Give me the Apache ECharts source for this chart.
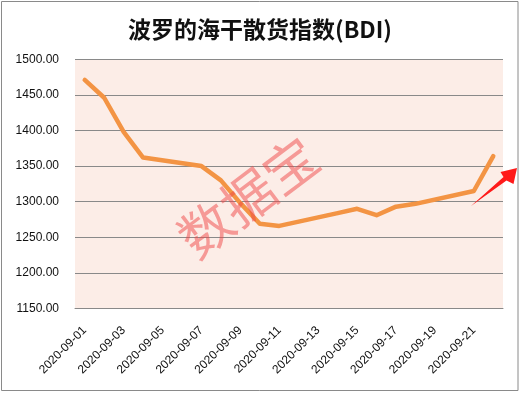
<!DOCTYPE html>
<html>
<head>
<meta charset="utf-8">
<script src="https://cdn.jsdelivr.net/npm/echarts@6/dist/echarts.min.js"></script>
<style>
html,body{margin:0;padding:0;background:#fff;}
#c{width:520px;height:393px;}
</style>
</head>
<body>
<div id="c"></div>
<script>
const titleText = '波罗的海干散货指数(BDI)';
const dates = ['2020-09-01','2020-09-02','2020-09-03','2020-09-04','2020-09-05','2020-09-06','2020-09-07','2020-09-08','2020-09-09','2020-09-10','2020-09-11','2020-09-12','2020-09-13','2020-09-14','2020-09-15','2020-09-16','2020-09-17','2020-09-18','2020-09-19','2020-09-20','2020-09-21','2020-09-22'];
const bdi = [1471,1446,1398,1362,null,null,1350,1330,1298,1269,1266,null,null,1284,1290,1281,1293,1297,null,null,1315,1364];
const yMin = 1150, yMax = 1500, yStep = 50;
const watermark = '数据宝';

const chart = echarts.init(document.getElementById('c'), null, {renderer:'canvas'});
chart.setOption({
  backgroundColor:'#ffffff',
  animation:false,
  title:{
    text:titleText, left:'center', top:13,
    textStyle:{fontFamily:'"Noto Sans CJK SC"', fontSize:23, fontWeight:'bold', color:'#111'}
  },
  grid:{left:75, right:17, top:59.3, bottom:84.5, show:true, backgroundColor:'#FCEDE7', borderWidth:0},
  xAxis:{
    type:'category', data:dates, boundaryGap:true,
    axisLine:{show:true, lineStyle:{color:'#898989', width:1}},
    axisTick:{show:false},
    axisLabel:{interval:1, rotate:45, margin:20, color:'#111', fontSize:12, fontFamily:'"Liberation Sans"'},
    splitLine:{show:false}
  },
  yAxis:{
    type:'value', min:yMin, max:yMax, interval:yStep,
    axisLine:{show:false}, axisTick:{show:false},
    axisLabel:{formatter:v=>v.toFixed(2), color:'#111', fontSize:12, fontFamily:'"Liberation Sans"', margin:16},
    splitLine:{show:true, lineStyle:{color:'#898989', width:1}}
  },
  series:[{
    type:'line', data:bdi, connectNulls:true, symbol:'none', smooth:false,
    lineStyle:{color:'#F39444', width:4.5, cap:'round', join:'round'}
  }],
  graphic:[
    {type:'rect', shape:{x:1.5, y:1.5, width:516.5, height:389}, style:{fill:null, stroke:'#8a8a8a', lineWidth:1}, silent:true, z:-1},
    {type:'text', x:248, y:197, rotation:37*Math.PI/180, z:100,
      style:{text:watermark, fontSize:53, fontFamily:'"Noto Sans CJK SC"', fill:'rgba(240,70,70,0.5)', textAlign:'center', textVerticalAlign:'middle'}},
    {type:'polygon', z:100, shape:{points:[[471,206],[506.5,180.5],[513.5,184],[517,168],[500.5,172],[503.5,177]]}, style:{fill:'#FF1A1A'}}
  ]
});
</script>
</body>
</html>
